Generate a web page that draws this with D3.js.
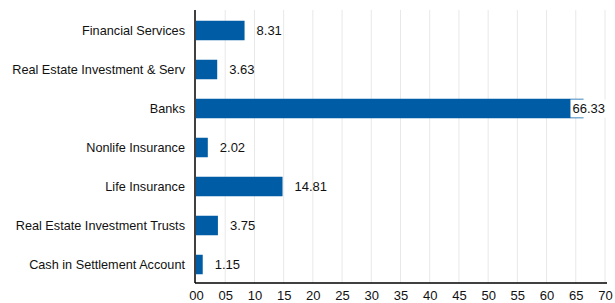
<!DOCTYPE html>
<html><head><meta charset="utf-8">
<script src="https://cdn.jsdelivr.net/npm/d3@7"></script>
<style>body{margin:0;background:#fff}svg{display:block}text{font-family:"Liberation Sans",Arial,sans-serif}</style>
</head><body><svg id="c" width="615" height="303"></svg>
<script>
const categories = ["Financial Services","Real Estate Investment & Serv","Banks","Nonlife Insurance","Life Insurance","Real Estate Investment Trusts","Cash in Settlement Account"];
const values = [8.31,3.63,66.33,2.02,14.81,3.75,1.15];
const tickValues = [0,5,10,15,20,25,30,35,40,45,50,55,60,65,70];

const svg = d3.select("#c");
const m = {l:196, r:10, t:10, b:20};
const W = 615, H = 303;
const x = d3.scaleLinear().domain([0,70]).range([m.l, W - m.r]);
const y = d3.scaleBand().domain(categories).range([m.t + 1, H - m.b + 1]).paddingInner(0.5).paddingOuter(0.25);

// gridlines
svg.append("g").selectAll("line").data(tickValues.slice(1)).join("line")
  .attr("x1", d=>x(d)).attr("x2", d=>x(d)).attr("y1", m.t).attr("y2", H-m.b)
  .attr("stroke", "#e8e8e8").attr("stroke-width", 1);

// bars
svg.append("g").selectAll("rect").data(values).join("rect")
  .attr("x", x(0)).attr("y", (d,i)=>y(categories[i]))
  .attr("width", d=>x(d)-x(0)).attr("height", y.bandwidth())
  .attr("fill", "#005ca5");

// value labels
const lg = svg.append("g");
values.forEach((v,i)=>{
  const g = lg.append("g");
  const t = g.append("text").text(v.toFixed(2))
    .attr("y", y(categories[i]) + y.bandwidth()/2).attr("dy","0.35em")
    .attr("font-size", 13).attr("fill", "#111");
  const w = t.node().getComputedTextLength();
  let tx = x(v) + 12;
  if (tx + w > W - m.r) tx = W - m.r - w;
  t.attr("x", tx);
  if (tx < x(v)) {
    g.insert("rect","text").attr("x", tx-2).attr("y", y(categories[i]) + y.bandwidth()/2 - 9)
      .attr("width", w+4).attr("height", 18).attr("fill", "#fff");
  }
});

// y axis
const ya = svg.append("g").attr("transform", `translate(${m.l-1},0)`)
  .call(d3.axisLeft(y).tickSize(0).tickPadding(10));
ya.select(".domain").attr("stroke","#000").attr("stroke-width",1.5).attr("d", `M0,${m.t}V${H-m.b}`);
ya.selectAll("text").attr("font-size", 12.7).attr("fill","#111").style("font-family","'Liberation Sans',Arial,sans-serif");

// x axis
const xa = svg.append("g").attr("transform", `translate(0,${H-m.b})`)
  .call(d3.axisBottom(x).tickValues(tickValues).tickFormat(d3.format("02d")).tickSize(0).tickPadding(8));
xa.select(".domain").attr("stroke","#000").attr("stroke-width",1.5).attr("d", `M${m.l-1},0H${W-m.r+2}`);
xa.selectAll("text").attr("font-size", 13).attr("fill","#111").style("font-family","'Liberation Sans',Arial,sans-serif");
</script></body></html>
